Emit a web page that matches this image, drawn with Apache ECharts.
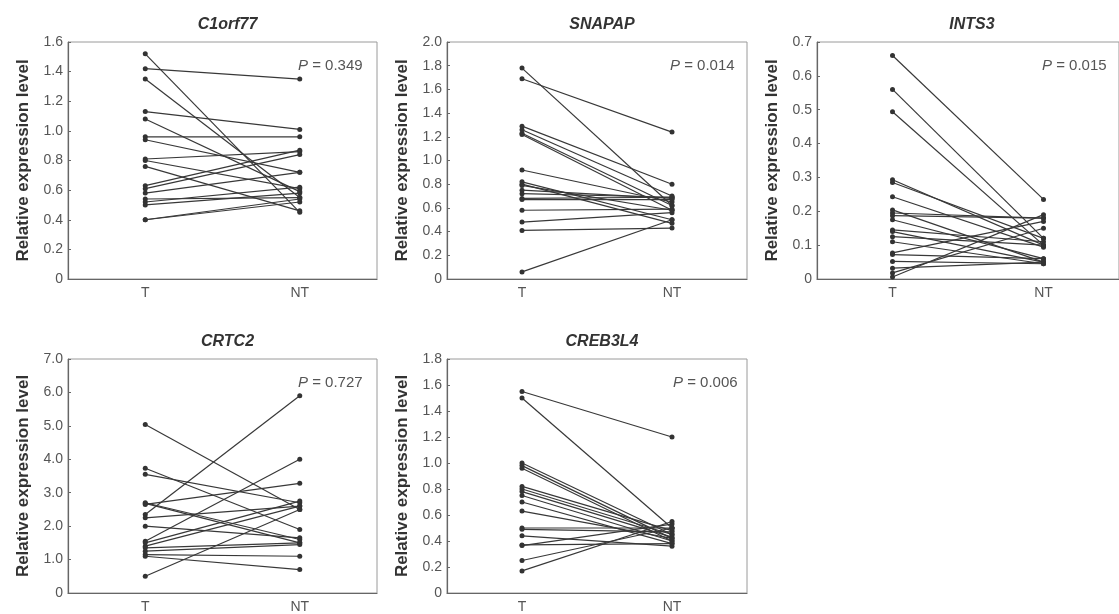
<!DOCTYPE html>
<html>
<head>
<meta charset="utf-8">
<script src="https://cdn.jsdelivr.net/npm/echarts@6/dist/echarts.min.js"></script>
<style>html,body{margin:0;padding:0;background:#fff;}#c{width:1119px;height:614px;}</style>
</head>
<body>
<div id="c"></div>
<script>
// ---- Data (paired values: T -> NT) ----
const categories = ['T', 'NT'];
const genes = ['C1orf77', 'SNAPAP', 'INTS3', 'CRTC2', 'CREB3L4'];
const pValues = ['0.349', '0.014', '0.015', '0.727', '0.006'];
const yMaxes = [1.6, 2.0, 0.7, 7.0, 1.8];
const yIntervals = [0.2, 0.2, 0.1, 1.0, 0.2];

const c1orf77_T  = [1.52, 1.42, 1.35, 1.13, 1.08, 0.96, 0.94, 0.81, 0.80, 0.76, 0.63, 0.61, 0.58, 0.54, 0.52, 0.50, 0.40, 0.40];
const c1orf77_NT = [0.45, 1.35, 0.55, 1.01, 0.59, 0.96, 0.72, 0.86, 0.61, 0.46, 0.87, 0.84, 0.72, 0.55, 0.62, 0.58, 0.54, 0.52];

const snapap_T  = [1.78, 1.69, 1.29, 1.26, 1.23, 1.22, 0.92, 0.82, 0.80, 0.79, 0.75, 0.72, 0.68, 0.67, 0.58, 0.48, 0.41, 0.06];
const snapap_NT = [0.62, 1.24, 0.80, 0.70, 0.62, 0.58, 0.65, 0.50, 0.47, 0.58, 0.68, 0.69, 0.69, 0.67, 0.59, 0.56, 0.43, 0.50];

const ints3_T  = [0.66, 0.56, 0.494, 0.293, 0.285, 0.243, 0.204, 0.195, 0.187, 0.175, 0.145, 0.14, 0.125, 0.11, 0.077, 0.072, 0.052, 0.032, 0.018, 0.006];
const ints3_NT = [0.235, 0.12, 0.10, 0.10, 0.12, 0.094, 0.05, 0.18, 0.18, 0.06, 0.11, 0.05, 0.10, 0.045, 0.17, 0.06, 0.045, 0.05, 0.15, 0.19];

const crtc2_T  = [5.04, 3.73, 3.55, 2.70, 2.68, 2.65, 2.35, 2.25, 2.00, 1.55, 1.50, 1.40, 1.35, 1.25, 1.15, 1.10, 0.50];
const crtc2_NT = [2.50, 1.90, 2.70, 1.60, 1.50, 3.28, 5.90, 2.60, 1.65, 4.00, 2.75, 2.60, 1.50, 1.45, 1.10, 0.70, 2.50];

const creb3l4_T  = [1.55, 1.50, 1.00, 0.98, 0.96, 0.82, 0.80, 0.78, 0.75, 0.70, 0.63, 0.50, 0.49, 0.44, 0.37, 0.365, 0.25, 0.17];
const creb3l4_NT = [1.20, 0.50, 0.45, 0.42, 0.40, 0.48, 0.45, 0.43, 0.40, 0.38, 0.42, 0.50, 0.47, 0.36, 0.38, 0.53, 0.50, 0.55];

const panelT  = [c1orf77_T, snapap_T, ints3_T, crtc2_T, creb3l4_T];
const panelNT = [c1orf77_NT, snapap_NT, ints3_NT, crtc2_NT, creb3l4_NT];

// ---- Layout ----
const grids = [
  {left: 68,  top: 42,  width: 309, height: 237},
  {left: 447, top: 42,  width: 300, height: 237},
  {left: 817, top: 42,  width: 310, height: 237},
  {left: 68,  top: 359, width: 309, height: 237},
  {left: 447, top: 359, width: 300, height: 237}
];
const pLeft = [230, 223, 225, 230, 226];

const font = '"Liberation Sans", Arial, sans-serif';
const option = {
  animation: false,
  backgroundColor: '#fff',
  grid: grids.map(g => Object.assign({show: true, borderColor: '#9a9a9a', borderWidth: 1, backgroundColor: 'transparent'}, g)),
  title: [],
  xAxis: [],
  yAxis: [],
  series: []
};

grids.forEach((g, i) => {
  option.title.push({
    text: genes[i],
    left: g.left + g.width / 2 - (i === 2 ? 5 : 0),
    top: g.top - 30,
    textAlign: 'center',
    textStyle: {fontFamily: font, fontSize: 16, fontWeight: 'bold', fontStyle: 'italic', color: '#333'}
  });
  option.title.push({
    text: '{i|P} = ' + pValues[i],
    left: g.left + pLeft[i],
    top: g.top + 16,
    padding: 0,
    textStyle: {
      fontFamily: font, fontSize: 15, fontWeight: 'normal', color: '#555',
      rich: {i: {fontFamily: font, fontSize: 15, fontStyle: 'italic', color: '#555'}}
    }
  });
  option.xAxis.push({
    type: 'category',
    gridIndex: i,
    data: categories,
    boundaryGap: true,
    axisLine: {lineStyle: {color: '#666', width: 1.2}},
    axisTick: {show: false},
    axisLabel: {fontFamily: font, fontSize: 14, color: '#555', margin: 7}
  });
  option.yAxis.push({
    type: 'value',
    gridIndex: i,
    min: 0,
    max: yMaxes[i],
    interval: yIntervals[i],
    name: 'Relative expression level',
    nameLocation: 'middle',
    nameGap: 36,
    nameTextStyle: {fontFamily: font, fontSize: 17, fontWeight: 'bold', color: '#333'},
    splitLine: {show: false},
    axisLine: {show: true, lineStyle: {color: '#666', width: 1.2}},
    axisTick: {show: true, inside: true, length: 3, lineStyle: {color: '#666'}},
    axisLabel: {
      fontFamily: font, fontSize: 14, color: '#555', margin: 5,
      formatter: v => (v === 0 ? '0' : v.toFixed(1))
    }
  });
  const T = panelT[i], NT = panelNT[i];
  for (let k = 0; k < T.length; k++) {
    option.series.push({
      type: 'line',
      xAxisIndex: i,
      yAxisIndex: i,
      data: [T[k], NT[k]],
      symbol: 'circle',
      symbolSize: 5,
      itemStyle: {color: '#333'},
      lineStyle: {color: '#383838', width: 1.2},
      silent: true
    });
  }
});

const chart = echarts.init(document.getElementById('c'), null, {renderer: 'canvas'});
chart.setOption(option);
</script>
</body>
</html>
